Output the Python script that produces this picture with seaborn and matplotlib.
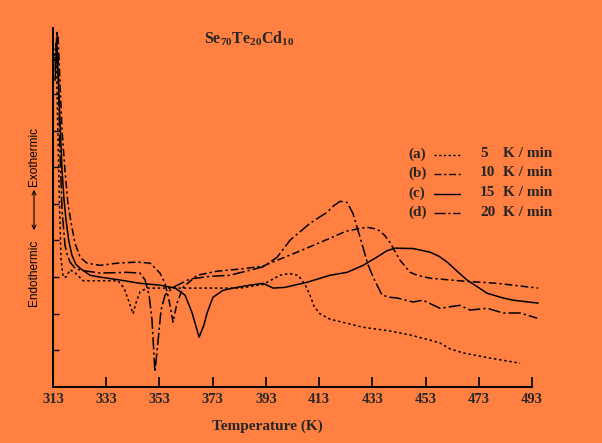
import numpy as np
import pandas as pd
import matplotlib
matplotlib.use("Agg")
import matplotlib.pyplot as plt
from matplotlib.lines import Line2D
from matplotlib.patches import FancyArrowPatch
import seaborn as sns

# DSC traces of Se70Te20Cd10 at four heating rates
rates = ["5", "10", "15", "20"]
tags = ["(a)", "(b)", "(c)", "(d)"]

temp_5 = [313.4, 314.1, 314.5, 315.3, 316.0, 316.8, 317.9, 319.4, 321.6, 324.3, 328.8,
          334.4, 337.4, 339.7, 341.2, 343.1, 344.2, 345.7, 348.3, 353.2, 368.2, 383.3,
          391.9, 398.3, 401.7, 405.1, 407.7, 409.6, 411.1, 413.3, 417.1, 423.5, 429.5,
          439.6, 447.2, 454.7, 458.4, 462.2, 467.1, 477.2, 488.5]
heat_5 = [8.9, 9.4, 8.1, 5.4, 3.5, 3.0, 3.0, 3.2, 3.1, 2.9, 2.9,
          2.9, 2.9, 2.7, 2.4, 2.0, 2.3, 2.6, 2.7, 2.7, 2.7, 2.7,
          2.8, 3.05, 3.1, 3.05, 2.8, 2.5, 2.2, 2.0, 1.85, 1.74, 1.63,
          1.53, 1.42, 1.28, 1.2, 1.04, 0.93, 0.79, 0.65]

temp_10 = [314.1, 314.9, 315.6, 316.4, 317.5, 318.6, 320.1, 321.3, 323.2, 325.8, 330.7,
           337.1, 344.6, 349.5, 353.2, 355.1, 356.6, 358.1, 359.6, 361.9, 367.1, 374.6,
           383.3, 391.9, 404.7, 417.1, 423.0, 428.4, 431.0, 434.8, 437.5, 439.6, 441.5,
           443.4, 447.2, 449.8, 454.7, 467.1, 479.9, 495.3]
heat_10 = [9.18, 9.59, 8.37, 7.00, 5.91, 5.01, 4.36, 3.92, 3.54, 3.38, 3.32,
           3.38, 3.41, 3.38, 3.11, 2.83, 2.37, 1.77, 2.29, 2.72, 3.05, 3.16,
           3.22, 3.30, 3.68, 4.06, 4.25, 4.33, 4.36, 4.31, 4.15, 3.95, 3.70,
           3.46, 3.13, 3.05, 2.97, 2.89, 2.83, 2.70]

temp_15 = [313.75, 314.5, 315.3, 316.4, 317.1, 317.9, 318.9, 320.1, 321.6, 323.2, 326.9,
           330.7, 338.2, 345.7, 353.2, 358.9, 362.6, 365.2, 367.9, 369.7, 370.9, 373.1,
           376.9, 382.1, 387.0, 391.9, 395.7, 400.2, 408.5, 417.1, 423.5, 429.5, 434.8,
           438.5, 441.5, 448.3, 454.7, 458.0, 461.1, 465.0, 468.6, 476.1, 482.1, 485.9, 495.3]
heat_15 = [8.37, 9.32, 7.82, 5.91, 5.15, 4.55, 4.0, 3.60, 3.35, 3.24, 3.05,
           3.00, 2.92, 2.83, 2.78, 2.70, 2.51, 2.04, 1.36, 1.69, 2.02, 2.45,
           2.64, 2.72, 2.78, 2.83, 2.70, 2.72, 2.86, 3.05, 3.13, 3.32, 3.55,
           3.72, 3.79, 3.78, 3.68, 3.57, 3.41, 3.15, 2.92, 2.56, 2.43, 2.37, 2.29]

temp_20 = [313.75, 314.5, 314.9, 315.6, 316.4, 317.5, 318.3, 319.4, 321.3, 323.2, 330.7,
           340.8, 345.7, 347.6, 349.1, 350.2, 351.3, 352.5, 353.6, 355.1, 358.1, 364.5,
           372.0, 379.5, 391.9, 397.2, 402.1, 409.6, 416.0, 418.5, 420.9, 423.5, 425.7,
           427.5, 429.5, 431.3, 433.3, 436.6, 439.6, 442.3, 448.3, 452.0, 458.4, 465.9,
           469.7, 476.1, 482.1, 488.5, 494.9]
heat_20 = [8.64, 9.73, 8.91, 6.46, 4.82, 3.87, 3.62, 3.41, 3.24, 3.19, 3.11,
           3.13, 3.11, 2.92, 2.51, 1.83, 0.41, 1.28, 2.10, 2.51, 2.72, 2.95,
           3.02, 3.05, 3.28, 3.54, 4.01, 4.47, 4.77, 4.95, 5.07, 5.04, 4.74,
           4.30, 3.81, 3.35, 3.00, 2.51, 2.45, 2.43, 2.32, 2.37, 2.15, 2.23,
           2.10, 2.15, 2.02, 2.02, 1.88]

x_ticks = [313, 333, 353, 373, 393, 413, 433, 453, 473, 493]

bg = "#ff8040"
W, H = 602, 443

def fx(px):
    return px / W

def fy(py):
    return 1 - py / H

sns.set_theme(style="ticks", rc={"axes.facecolor": bg, "figure.facecolor": bg})
plt.rcParams["font.family"] = ["Liberation Serif", "DejaVu Serif"]
plt.rcParams["mathtext.fontset"] = "custom"
plt.rcParams["mathtext.rm"] = "Liberation Serif:bold"
plt.rcParams["mathtext.it"] = "Liberation Serif:bold"

frames = []
for r, t, h in zip(rates, [temp_5, temp_10, temp_15, temp_20], [heat_5, heat_10, heat_15, heat_20]):
    frames.append(pd.DataFrame({"T": t, "q": h, "rate": r}))
df = pd.concat(frames, ignore_index=True)

dash_styles = {"5": (1.6, 1.8), "10": (5, 2, 1.5, 2), "15": "", "20": (8, 2, 1.5, 2)}

fig = plt.figure(figsize=(W / 100, H / 100), dpi=100)
left, right, bottom, top = 53, 538.7, 387, 28
ax = fig.add_axes([fx(left), fy(bottom), (right - left) / W, (bottom - top) / H])

sns.lineplot(data=df, x="T", y="q", hue="rate", style="rate",
             palette=["black"] * 4, dashes=dash_styles, sort=False,
             estimator=None, legend=False, linewidth=1.1, ax=ax)

ax.set_xlim(313, 495.5)
ax.set_ylim(0, 9.8)
sns.despine(ax=ax)
ax.spines["bottom"].set_bounds(313, 493)
for s in ["left", "bottom"]:
    ax.spines[s].set_color("black")
    ax.spines[s].set_linewidth(1.4)

ax.set_xticks(x_ticks)
ax.set_xticklabels([str(v) for v in x_ticks], fontweight="bold", fontsize=10.5)
ax.tick_params(axis="x", direction="in", length=7, width=1.2, color="black", pad=4)
ax.set_yticks(np.arange(1, 10))
ax.set_yticklabels([])
ax.tick_params(axis="y", direction="in", length=4, width=1, color="black")

ax.set_xlabel("Temperature (K)", fontsize=11, fontweight="bold")
ax.xaxis.set_label_coords((267 - left) / (right - left), -0.09)
ax.set_ylabel("")

# compound name
fig.text(fx(249), fy(39), r"$\mathrm{Se_{70}Te_{20}Cd_{10}}$", ha="center", va="center", fontsize=11.5)

# heating-rate key
rows = [154, 173, 193, 212]
for tag, r, y in zip(tags, rates, rows):
    fig.text(fx(408), fy(y), tag, ha="left", va="center", fontsize=11, fontweight="bold")
    ln = Line2D([fx(434), fx(460)], [fy(y + 1), fy(y + 1)], transform=fig.transFigure,
                color="black", linewidth=1.0)
    if dash_styles[r]:
        ln.set_dashes(dash_styles[r])
    fig.add_artist(ln)
    fig.text(fx(480), fy(y), r, ha="left", va="center", fontsize=11, fontweight="bold")
    fig.text(fx(503), fy(y), "K / min", ha="left", va="center", fontsize=11, fontweight="bold")

# endo / exo direction
side = dict(rotation=90, ha="center", va="center", fontsize=8.5,
            family=["Liberation Sans", "DejaVu Sans"], color="black")
fig.text(fx(34), fy(273), "Endothermic", **side)
fig.text(fx(34), fy(157), "Exothermic", **side)
fig.add_artist(FancyArrowPatch(
    (fx(34), fy(233)), (fx(34), fy(187)), transform=fig.transFigure,
    arrowstyle="<->", mutation_scale=7, color="black", linewidth=0.8))

fig.savefig("out.png", dpi=100, facecolor=bg)
